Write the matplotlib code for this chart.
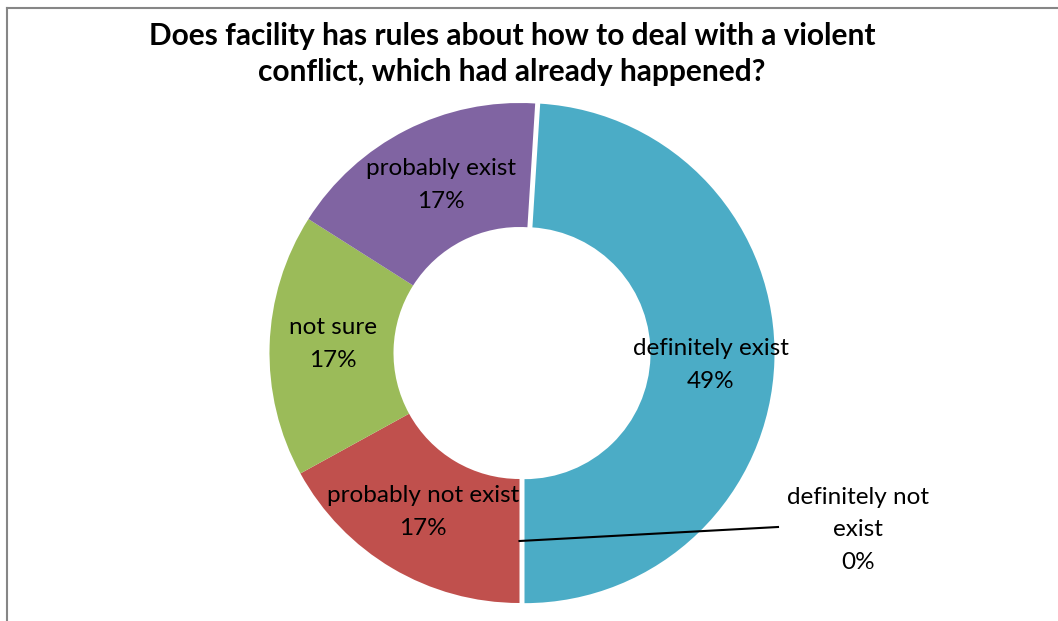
import matplotlib.pyplot as plt
from matplotlib.lines import Line2D

# answers, in the order they go round the ring (clockwise from the bottom)
answers = ["definitely not exist", "probably not exist", "not sure",
           "probably exist", "definitely exist"]
shares = [0, 17, 17, 17, 49]
colors = ["#4F81BD", "#C0504D", "#9BBB59", "#8064A2", "#4BACC6"]

title = ("Does facility has rules about how to deal with a violent\n"
         "conflict, which had already happened?")

W, H = 1058, 621
fig = plt.figure(figsize=(W / 100, H / 100), dpi=100)
ax = fig.add_axes([0, 0, 1, 1])
ax.set_xlim(0, W)
ax.set_ylim(0, H)
ax.axis("off")

# chart area border (only the left and top edges are visible)
fig.add_artist(Line2D([7 / W, 7 / W], [-0.1, 1 - 8 / H], transform=fig.transFigure,
                      color="#868686", lw=1.5))
fig.add_artist(Line2D([7 / W, 1.1], [1 - 8 / H, 1 - 8 / H], transform=fig.transFigure,
                      color="#868686", lw=1.5))

cx, cy = 519.5, H - 353
R, hole = 250, 126
explode = [0, 0, 0, 0, 5]

wedges, _ = ax.pie(shares, colors=colors, startangle=-90, counterclock=False,
                   radius=R, center=(cx, cy), explode=explode,
                   wedgeprops=dict(width=R - hole, linewidth=0))
ax.set_xlim(0, W)
ax.set_ylim(0, H)

font = "Lato"
lab_fs = 17.5

def label(x, y, name, val):
    ax.text(x, H - y, f"{name}\n{val}%", ha="center", va="center",
            fontsize=lab_fs, family=font, linespacing=1.75)

label(711, 365, "definitely exist", shares[4])
label(441, 185, "probably exist", shares[3])
label(333, 344, "not sure", shares[2])
label(423, 512, "probably not exist", shares[1])
ax.text(858, H - 530, "definitely not\nexist\n" + f"{shares[0]}%", ha="center",
        va="center", fontsize=lab_fs, family=font, linespacing=1.7)

# leader line for the empty slice
mid_r = (R + hole) / 2
ax.plot([cx, 778], [cy - mid_r, H - 527], color="black", lw=1.5)

fig.text(512 / W, 1 - 54 / H, title, ha="center", va="center", fontsize=21.5,
         fontweight="bold", family=font, linespacing=1.32)

fig.savefig("out.png", dpi=100)
